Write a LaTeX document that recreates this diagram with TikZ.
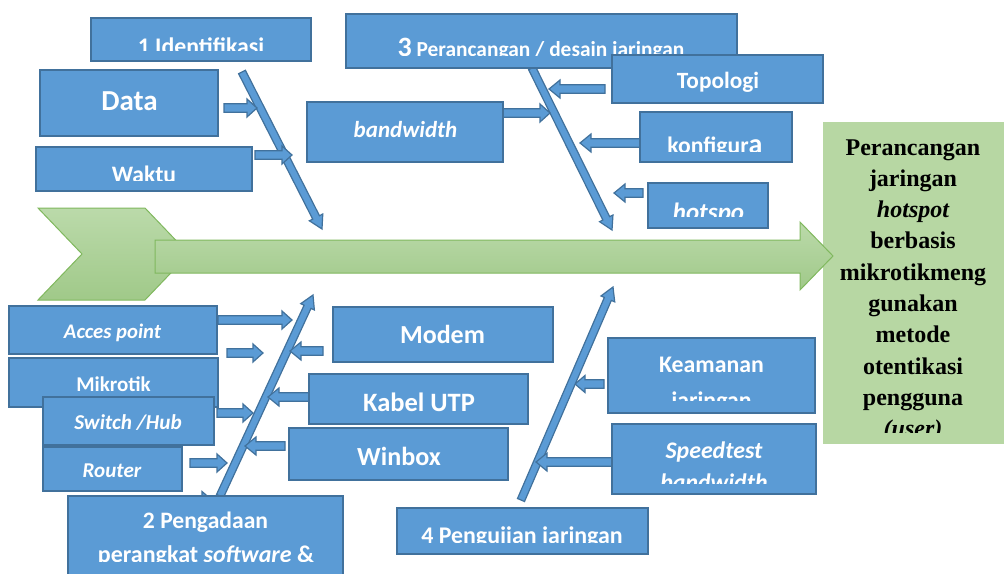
\documentclass[tikz,border=0pt]{standalone}
\usepackage{fontspec}
\setmainfont{Carlito}
\newfontfamily\tnr{Liberation Serif}
\usetikzlibrary{calc}
\definecolor{bfill}{HTML}{5B9BD5}
\definecolor{bline}{HTML}{41719C}
\definecolor{gbox}{RGB}{183,215,163}
\definecolor{gtop}{RGB}{187,218,170}
\definecolor{gbot}{RGB}{160,201,137}
\definecolor{gline}{RGB}{128,184,94}
\newcommand\fsz[1]{\fontsize{#1}{#1}\selectfont}
\newcommand\myblockarrow[5]{%
  \coordinate (mbaH) at ($(#2)!#5!(#1)$);
  \path[arrowbox] ($(#1)!#3!90:(#2)$) -- ($(mbaH)!#3!90:(#2)$) -- ($(mbaH)!#4!90:(#2)$) -- (#2)
     -- ($(mbaH)!#4!-90:(#2)$) -- ($(mbaH)!#3!-90:(#2)$) -- ($(#1)!#3!-90:(#2)$) -- cycle;}
\tikzset{
  box/.style={draw=bline, fill=bfill, line width=1.5pt, inner sep=0pt, outer sep=0pt, anchor=north west},
  resbox/.style={fill=gbox, inner sep=0pt, outer sep=0pt, anchor=north west},
  arrowbox/.style={draw=bline, fill=bfill, line width=1.2pt, line join=miter},
  greenshape/.style={draw=gline, line width=1pt, top color=gtop, bottom color=gbot},
  wt/.style={text=white, inner sep=0pt, anchor=base},
  restxt/.style={text=black, inner sep=0pt, anchor=base, font=\tnr\bfseries\fsz{24}},
}
\begin{document}
\begin{tikzpicture}[x=1pt,y=-1pt]
\useasboundingbox (0,0) rectangle (1004,573);
% result box
\node[resbox, minimum width=181pt, minimum height=322pt] (res) at (823,122) {};
\begin{scope}
\clip (823,122) rectangle (1004,432);
\foreach \txt [count=\i from 0] in {Perancangan, jaringan, {\itshape hotspot}, berbasis, mikrotikmeng, gunakan, metode, otentikasi, pengguna, {\itshape (user)}}
  \node[restxt] (r\i) at (913,{155+31.3*\i}) {\txt};
\end{scope}
% chevron and spine
\path[greenshape] (38,208) -- (145,208) -- (189,254) -- (145,300) -- (38,300) -- (82,254) -- cycle;
\path[greenshape] (155,240) -- (800,240) -- (800,222) -- (833,256) -- (800,290) -- (800,273) -- (155,273) -- cycle;
% coordinates of bones
\coordinate (b1s) at (242,72);  \coordinate (b1e) at (322,229);
\coordinate (b3s) at (532,68);  \coordinate (b3e) at (612,230);
\coordinate (b2s) at (220,496); \coordinate (b2e) at (313,295);
\coordinate (b4s) at (521,500); \coordinate (b4e) at (613,287);
% small arrow coordinates
\coordinate (aDs) at (224,108); \coordinate (aDe) at (257,108);
\coordinate (aWs) at (255,155); \coordinate (aWe) at (292,155);
\coordinate (aBs) at (503,113); \coordinate (aBe) at (550,113);
\coordinate (aTs) at (605,89);  \coordinate (aTe) at (549,89);
\coordinate (aKs) at (640,143); \coordinate (aKe) at (580,143);
\coordinate (aHs) at (643,193); \coordinate (aHe) at (614,193);
\coordinate (aAs) at (218,320); \coordinate (aAe) at (292,320);
\coordinate (aFs) at (227,353); \coordinate (aFe) at (263,353);
\coordinate (aMs) at (323,351); \coordinate (aMe) at (290,351);
\coordinate (aUs) at (309,397); \coordinate (aUe) at (268,397);
\coordinate (aSs) at (217,413); \coordinate (aSe) at (253,413);
\coordinate (aXs) at (285,446); \coordinate (aXe) at (245,446);
\coordinate (aRs) at (190,463); \coordinate (aRe) at (227,463);
\coordinate (aZs) at (180,500); \coordinate (aZe) at (212,500);
\coordinate (aQs) at (604,384); \coordinate (aQe) at (575,384);
\coordinate (aPs) at (612,462); \coordinate (aPe) at (536,462);
% arrows under bones
\myblockarrow{aQs}{aQe}{4.2pt}{8.5pt}{10pt}
\myblockarrow{aZs}{aZe}{4.2pt}{8.5pt}{10pt}
% bones
\myblockarrow{b1s}{b1e}{3.8pt}{7.5pt}{13pt}
\myblockarrow{b3s}{b3e}{3.8pt}{7.5pt}{13pt}
\myblockarrow{b2s}{b2e}{3.8pt}{7.5pt}{13pt}
\myblockarrow{b4s}{b4e}{3.8pt}{7.5pt}{13pt}
% small arrows
\myblockarrow{aDs}{aDe}{4.2pt}{9pt}{10pt}
\myblockarrow{aWs}{aWe}{4.2pt}{9pt}{10pt}
\myblockarrow{aBs}{aBe}{4.2pt}{9pt}{10pt}
\myblockarrow{aTs}{aTe}{4.2pt}{9pt}{11pt}
\myblockarrow{aKs}{aKe}{4.2pt}{9pt}{11pt}
\myblockarrow{aHs}{aHe}{4.2pt}{9pt}{11pt}
\myblockarrow{aAs}{aAe}{4.2pt}{9pt}{10pt}
\myblockarrow{aFs}{aFe}{4.2pt}{9pt}{10pt}
\myblockarrow{aMs}{aMe}{4.2pt}{9pt}{11pt}
\myblockarrow{aUs}{aUe}{4.2pt}{9pt}{11pt}
\myblockarrow{aSs}{aSe}{4.2pt}{9pt}{10pt}
\myblockarrow{aXs}{aXe}{4.2pt}{9pt}{11pt}
\myblockarrow{aRs}{aRe}{4.2pt}{9pt}{10pt}
\myblockarrow{aPs}{aPe}{4.2pt}{9pt}{11pt}
% ---- top boxes
\node[box, minimum width=220pt, minimum height=43pt] (n1) at (91,18) {};
\begin{scope}\clip (91,18) rectangle (311,50.5);
\node[wt, font=\bfseries\fsz{23.8}] (t1) at (201,54.5) {1 Identifikasi};
\end{scope}
\node[box, minimum width=178pt, minimum height=66pt] (nData) at (40,70) {};
\node[wt, font=\bfseries\fsz{29}] (tData) at (129.5,110.5) {Data};
\node[box, minimum width=216pt, minimum height=44pt] (nWaktu) at (36,147) {};
\begin{scope}\clip (36,147) rectangle (252,180);
\node[wt, font=\bfseries\fsz{23.6}] (tWaktu) at (144,182) {Waktu};
\end{scope}
\node[box, minimum width=391pt, minimum height=54pt] (n3) at (346,14) {};
\begin{scope}\clip (346,14) rectangle (737,55.5);
\node[wt, font=\bfseries\fsz{21.4}] (t3) at (541,56) {{\fsz{28}3} Perancangan / desain jaringan};
\end{scope}
\node[box, minimum width=211pt, minimum height=48pt] (nTop) at (612,55) {};
\node[wt, font=\bfseries\fsz{23.3}] (tTop) at (718,88) {Topologi};
\node[box, minimum width=196pt, minimum height=60pt] (nBw) at (307,102) {};
\node[wt, font=\bfseries\itshape\fsz{23}] (tBw) at (405.5,137.5) {bandwidth};
\node[box, minimum width=152pt, minimum height=50pt] (nKonf) at (640,112) {};
\begin{scope}\clip (640,112) rectangle (792,151);
\node[wt, font=\bfseries\fsz{23.6}] (tKonf) at (715,153.5) {konfigur{\fsz{28}a}};
\end{scope}
\node[box, minimum width=120pt, minimum height=45pt] (nHot) at (648,183) {};
\begin{scope}\clip (648,183) rectangle (768,216);
\node[wt, font=\bfseries\itshape\fsz{25}] (tHot) at (708.5,220.5) {hotspo};
\end{scope}
% ---- bottom boxes
\node[box, minimum width=208pt, minimum height=48pt] (nAcc) at (9,306) {};
\node[wt, font=\bfseries\itshape\fsz{20.7}] (tAcc) at (112.5,338) {Acces point};
\node[box, minimum width=209pt, minimum height=49pt] (nMik) at (9,358) {};
\node[wt, font=\bfseries\fsz{21}] (tMik) at (113.5,391) {Mikrotik};
\node[box, minimum width=171pt, minimum height=48pt] (nSw) at (43,397) {};
\node[wt, font=\bfseries\itshape\fsz{21.2}] (tSw) at (128,429) {Switch /Hub};
\node[box, minimum width=139pt, minimum height=44pt] (nRou) at (43,447) {};
\node[wt, font=\bfseries\itshape\fsz{21.1}] (tRou) at (112,477) {Router};
\node[box, minimum width=275pt, minimum height=94pt] (n2) at (68,496) {};
\node[wt, font=\bfseries\fsz{23.6}] (t2a) at (205.5,528) {2 Pengadaan};
\begin{scope}\clip (68,496) rectangle (343,561);
\node[wt, font=\bfseries\fsz{24}] (t2b) at (206,562.5) {perangkat \textit{software} \&};
\end{scope}
\node[box, minimum width=220pt, minimum height=55pt] (nMod) at (333,307) {};
\node[wt, font=\bfseries\fsz{26}] (tMod) at (442.5,343.5) {Modem};
\node[box, minimum width=219pt, minimum height=50pt] (nKab) at (309,374) {};
\node[wt, font=\bfseries\fsz{26.5}] (tKab) at (419,411) {Kabel UTP};
\node[box, minimum width=219pt, minimum height=52pt] (nWin) at (289,428) {};
\node[wt, font=\bfseries\fsz{26.1}] (tWin) at (399,465) {Winbox};
\node[box, minimum width=251pt, minimum height=46pt] (n4) at (397,508) {};
\begin{scope}\clip (397,508) rectangle (648,542);
\node[wt, font=\bfseries\fsz{23.9}] (t4) at (522,543.5) {4 Pengujian jaringan};
\end{scope}
\node[box, minimum width=207pt, minimum height=75pt] (nKea) at (608,338) {};
\node[wt, font=\bfseries\fsz{23.8}] (tKea) at (711.5,372) {Keamanan};
\begin{scope}\clip (608,338) rectangle (815,400);
\node[wt, font=\bfseries\fsz{23.8}] (tKea2) at (711.5,408) {jaringan};
\end{scope}
\node[box, minimum width=204pt, minimum height=70pt] (nSpd) at (612,424) {};
\node[wt, font=\bfseries\itshape\fsz{23.8}] (tSpd) at (714,458) {Speedtest};
\begin{scope}\clip (612,424) rectangle (816,483);
\node[wt, font=\bfseries\itshape\fsz{23.8}] (tSpd2) at (714,490) {bandwidth};
\end{scope}
\end{tikzpicture}
\end{document}
